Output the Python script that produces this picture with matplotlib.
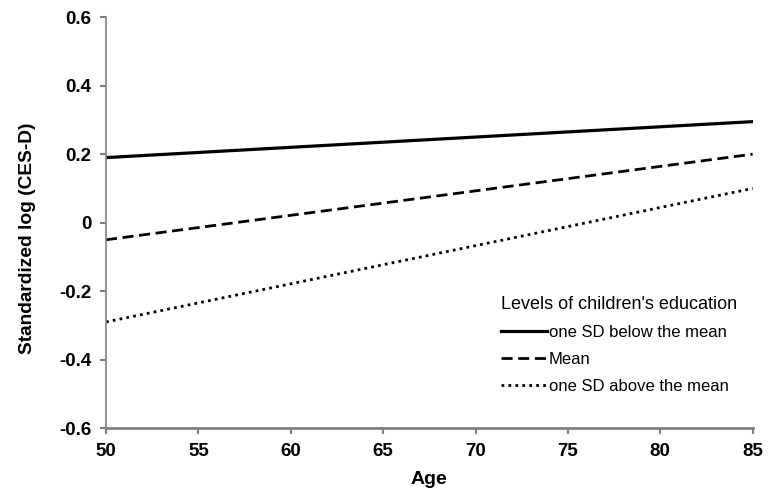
import matplotlib
matplotlib.use("Agg")
import matplotlib.pyplot as plt

ages = [50, 85]
below_mean = [0.19, 0.295]
mean = [-0.05, 0.20]
above_mean = [-0.29, 0.10]
labels = ["one SD below the mean", "Mean", "one SD above the mean"]
x_ticks = [50, 55, 60, 65, 70, 75, 80, 85]
y_ticks = [-0.6, -0.4, -0.2, 0, 0.2, 0.4, 0.6]
y_tick_labels = ["-0.6", "-0.4", "-0.2", "0", "0.2", "0.4", "0.6"]

plt.rcParams['font.family'] = ['Liberation Sans', 'DejaVu Sans']

fig = plt.figure(figsize=(7.68, 4.91), dpi=100)
ax = fig.add_axes([0.138, 0.128, 0.842, 0.837])

ax.plot(ages, below_mean, color="black", lw=2.3, ls="-", label=labels[0])
ax.plot(ages, mean, color="black", lw=2.0, ls=(0, (4, 2)), label=labels[1])
ax.plot(ages, above_mean, color="black", lw=2.0, ls=(0, (1, 1.5)), label=labels[2])

ax.set_xlim(50, 85)
ax.set_ylim(-0.6, 0.6)
ax.set_xticks(x_ticks)
ax.set_yticks(y_ticks)
ax.set_yticklabels(y_tick_labels)
ax.tick_params(axis='both', direction='out', length=4.5, width=1.5, color='#808080',
               labelsize=13.5, pad=6)
for lab in ax.get_xticklabels() + ax.get_yticklabels():
    lab.set_fontweight('bold')

for s in ['top', 'right']:
    ax.spines[s].set_visible(False)
ax.spines['left'].set_color('#808080')
ax.spines['bottom'].set_color('#808080')
ax.spines['left'].set_linewidth(1.2)
ax.spines['bottom'].set_linewidth(2.0)

ax.set_xlabel("Age", fontsize=14, fontweight='bold', labelpad=8)
ax.set_ylabel("Standardized log (CES-D)", fontsize=13.8, fontweight='bold')
ax.yaxis.set_label_coords(-0.108, 0.462)

leg = ax.legend(loc='upper left', bbox_to_anchor=(0.6, 0.337), frameon=False,
                title="Levels of children's education", fontsize=12,
                title_fontsize=13, handlelength=2.8, handletextpad=0.1,
                labelspacing=0.72, alignment='left', borderaxespad=0)

fig.savefig("out.png", dpi=100)
